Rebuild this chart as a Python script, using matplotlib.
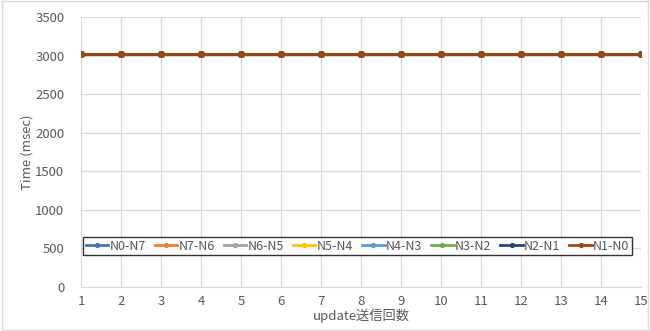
import matplotlib
matplotlib.use("Agg")
import matplotlib.pyplot as plt
from matplotlib.patches import Rectangle

plt.rcParams['font.family'] = ['Noto Sans CJK JP', 'DejaVu Sans']

updates = list(range(1, 16))
series_names = ["N0-N7", "N7-N6", "N6-N5", "N5-N4", "N4-N3", "N3-N2", "N2-N1", "N1-N0"]
series_colors = ["#4472C4", "#ED7D31", "#A5A5A5", "#FFC000", "#5B9BD5", "#70AD47", "#264478", "#9E480E"]
times = {
    "N0-N7": [3020] * 15,
    "N7-N6": [3020] * 15,
    "N6-N5": [3020] * 15,
    "N5-N4": [3020] * 15,
    "N4-N3": [3020] * 15,
    "N3-N2": [3020] * 15,
    "N2-N1": [3020] * 15,
    "N1-N0": [3020] * 15,
}
y_ticks = [0, 500, 1000, 1500, 2000, 2500, 3000, 3500]

fig = plt.figure(figsize=(6.5, 3.31), dpi=100)
fig.patches.append(Rectangle((0.003, 0.003), 0.994, 0.994, transform=fig.transFigure,
                             fill=False, edgecolor="#D9D9D9", linewidth=1))
ax = fig.add_axes([81 / 650, 1 - 287 / 331, 560 / 650, 270 / 331])

for name, color in zip(series_names, series_colors):
    ax.plot(updates, times[name], color=color, linewidth=2.0, marker="o",
            markersize=4.0, label=name, zorder=3)

ax.set_xlim(1, 15)
ax.set_ylim(0, 3500)
ax.set_xticks(updates)
ax.set_yticks(y_ticks)
ax.grid(True, color="#D9D9D9", linewidth=0.9, zorder=0)
for s in ax.spines.values():
    s.set_visible(False)
ax.spines['bottom'].set_visible(True)
ax.spines['bottom'].set_color("#D9D9D9")
ax.tick_params(length=0, labelsize=9.5, labelcolor="#595959", pad=6)
ax.tick_params(axis='y', pad=12)

ax.set_xlabel("update送信回数", fontsize=9.5, color="#595959", labelpad=0)
ax.set_ylabel("Time (msec)", fontsize=9.5, color="#595959", labelpad=1)

leg = ax.legend(loc="lower left", bbox_to_anchor=(0.004, 0.118, 0.98, 0.078),
                mode="expand", ncol=8, fontsize=9, frameon=True, fancybox=False,
                handlelength=1.8, handletextpad=0.1, columnspacing=0.6,
                markerscale=0.7, borderpad=0.2, borderaxespad=0)
leg.get_frame().set_edgecolor("black")
leg.get_frame().set_linewidth(1.0)
for t in leg.get_texts():
    t.set_color("#595959")

fig.savefig("out.png", dpi=100)
